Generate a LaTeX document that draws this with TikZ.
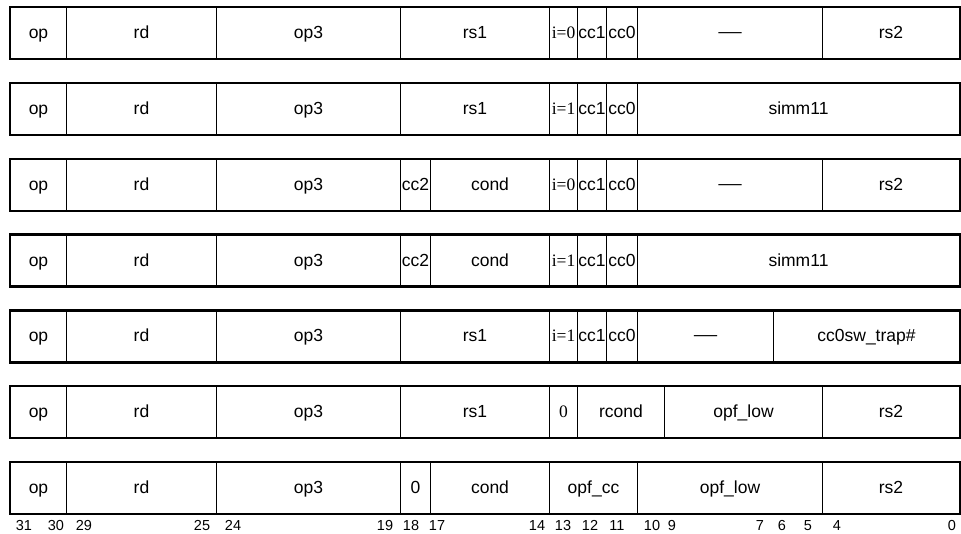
\documentclass[tikz,border=0pt]{standalone}
\usepackage{fontspec}
\setmainfont{Liberation Serif}
\setsansfont{Liberation Sans}
\newcommand{\blankfld}{{\rmfamily\fontsize{23}{23}\selectfont —}}

\begin{document}
\begin{tikzpicture}[x=1pt,y=-1pt,font=\sffamily\fontsize{17.5}{20}\selectfont,
 field/.style={draw,line width=1pt,anchor=north west,minimum height=51pt,inner sep=0pt,text height=11pt,text depth=0pt},
 word/.style={draw,line width=2.4pt},
 bitno/.style={font=\sffamily\fontsize{14.5}{16}\selectfont,anchor=base}]

\useasboundingbox (0,0) rectangle (961,533);

% row 1
\foreach \a/\b/\t [count=\i] in {10/66/op,66/216/rd,216/400/op3,400/549/rs1,549/577/{\rmfamily i=0},577/606/cc1,606/637/cc0,637/822/\blankfld,822/959/rs2}
 {\pgfmathsetmacro\w{\b-\a}\node[field,minimum width=\w pt] (ra\i) at (\a,7) {\t};}
\draw[word] (ra1.north west) rectangle (ra9.south east);

% row 2
\foreach \a/\b/\t [count=\i] in {10/66/op,66/216/rd,216/400/op3,400/549/rs1,549/577/{\rmfamily i=1},577/606/cc1,606/637/cc0,637/959/simm11}
 {\pgfmathsetmacro\w{\b-\a}\node[field,minimum width=\w pt] (rb\i) at (\a,82.8) {\t};}
\draw[word] (rb1.north west) rectangle (rb8.south east);

% row 3
\foreach \a/\b/\t [count=\i] in {10/66/op,66/216/rd,216/400/op3,400/430/cc2,430/549/cond,549/577/{\rmfamily i=0},577/606/cc1,606/637/cc0,637/822/\blankfld,822/959/rs2}
 {\pgfmathsetmacro\w{\b-\a}\node[field,minimum width=\w pt] (rc\i) at (\a,158.7) {\t};}
\draw[word] (rc1.north west) rectangle (rc10.south east);

% row 4
\foreach \a/\b/\t [count=\i] in {10/66/op,66/216/rd,216/400/op3,400/430/cc2,430/549/cond,549/577/{\rmfamily i=1},577/606/cc1,606/637/cc0,637/959/simm11}
 {\pgfmathsetmacro\w{\b-\a}\node[field,minimum width=\w pt] (rd\i) at (\a,234.5) {\t};}
\draw[word] (rd1.north west) rectangle (rd9.south east);

% row 5
\foreach \a/\b/\t [count=\i] in {10/66/op,66/216/rd,216/400/op3,400/549/rs1,549/577/{\rmfamily i=1},577/606/cc1,606/637/cc0,637/773/\blankfld,773/959/cc0sw\_trap\#}
 {\pgfmathsetmacro\w{\b-\a}\node[field,minimum width=\w pt] (re\i) at (\a,310.3) {\t};}
\draw[word] (re1.north west) rectangle (re9.south east);

% row 6
\foreach \a/\b/\t [count=\i] in {10/66/op,66/216/rd,216/400/op3,400/549/rs1,549/577/{\rmfamily 0},577/664/rcond,664/822/opf\_low,822/959/rs2}
 {\pgfmathsetmacro\w{\b-\a}\node[field,minimum width=\w pt] (rf\i) at (\a,386.2) {\t};}
\draw[word] (rf1.north west) rectangle (rf8.south east);

% row 7
\foreach \a/\b/\t [count=\i] in {10/66/op,66/216/rd,216/400/op3,400/430/0,430/549/cond,549/637/opf\_cc,637/822/opf\_low,822/959/rs2}
 {\pgfmathsetmacro\w{\b-\a}\node[field,minimum width=\w pt] (rg\i) at (\a,462) {\t};}
\draw[word] (rg1.north west) rectangle (rg8.south east);

% bit numbers
\foreach \n/\x in {31/24,30/56,29/84,25/202,24/233,19/385,18/411,17/437,14/537,13/563,12/590,11/617,10/652,9/672,7/760,6/782,5/808,4/837,0/952}
 \node[bitno] (bit\n) at (\x,530) {\n};

\end{tikzpicture}
\end{document}
